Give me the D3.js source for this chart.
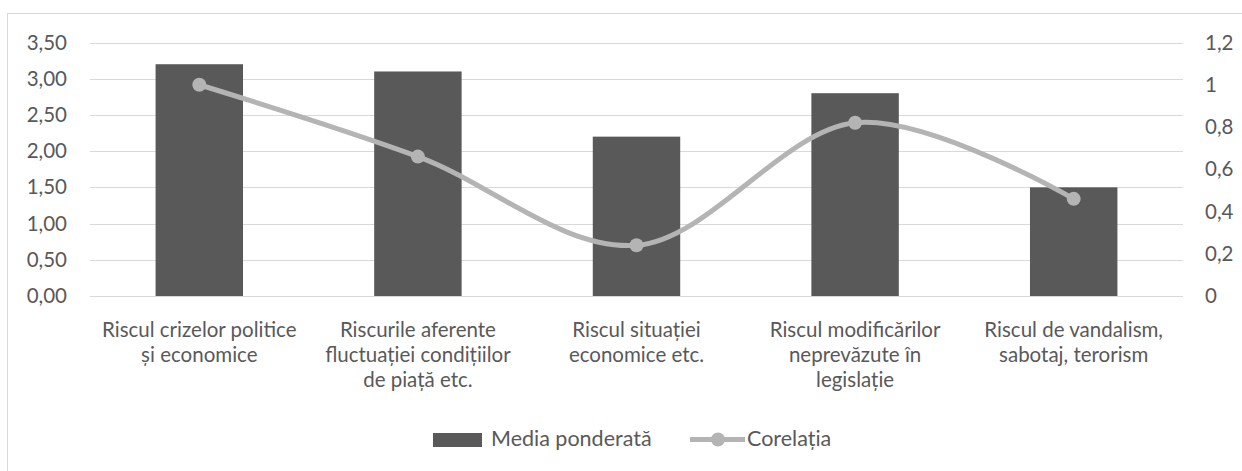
<!DOCTYPE html>
<html>
<head>
<meta charset="utf-8">
<script src="https://cdn.jsdelivr.net/npm/d3@7"></script>
<style>
  html, body { margin: 0; padding: 0; background: #fff; }
  svg { display: block; font-family: Lato, "Open Sans", sans-serif; }
</style>
</head>
<body>
<svg id="chart" width="1242" height="471"></svg>
<script>
// Chart data
const categories = [
  ["Riscul crizelor politice", "și economice"],
  ["Riscurile aferente", "fluctuației condițiilor", "de piață etc."],
  ["Riscul situației", "economice etc."],
  ["Riscul modificărilor", "neprevăzute în", "legislație"],
  ["Riscul de vandalism,", "sabotaj, terorism"]
];
const mediaPonderata = [3.2, 3.1, 2.2, 2.8, 1.5];
const corelatia = [1.0, 0.66, 0.24, 0.82, 0.46];
const leftTicks = [0, 0.5, 1, 1.5, 2, 2.5, 3, 3.5];
const rightTicks = [0, 0.2, 0.4, 0.6, 0.8, 1, 1.2];
const seriesNames = ["Media ponderată", "Corelația"];

const svg = d3.select("#chart");
const barColor = "#595959";
const lineColor = "#b4b4b4";
const textColor = "#595959";
const fontSize = 20.5;

// Chart area border
svg.append("rect")
  .attr("x", 7.5).attr("y", 13.5)
  .attr("width", 1260).attr("height", 480)
  .attr("fill", "#fff").attr("stroke", "#d9d9d9");

const plot = { left: 90, right: 1183, top: 42.5, bottom: 296 };

const x = d3.scaleBand()
  .domain(d3.range(categories.length))
  .range([plot.left, plot.right])
  .paddingInner(0.6).paddingOuter(0.3);
const xCenter = i => x(i) + x.bandwidth() / 2;

const yL = d3.scaleLinear().domain([0, 3.5]).range([plot.bottom, plot.top]);
const yR = d3.scaleLinear().domain([0, 1.2]).range([plot.bottom, plot.top]);

// Gridlines
svg.append("g")
  .selectAll("line").data(leftTicks).join("line")
  .attr("x1", plot.left).attr("x2", plot.right)
  .attr("y1", d => Math.round(yL(d)) + 0.5).attr("y2", d => Math.round(yL(d)) + 0.5)
  .attr("stroke", "#d9d9d9").attr("stroke-width", 1);

// Left axis labels
const fmt2 = d => d3.format(".2f")(d).replace(".", ",");
const leftAxis = d3.axisLeft(yL).tickValues(leftTicks).tickSize(0).tickPadding(0).tickFormat(fmt2);
svg.append("g")
  .attr("transform", `translate(67,0)`)
  .call(leftAxis)
  .call(g => g.select(".domain").remove())
  .call(g => g.selectAll("text").attr("fill", textColor).attr("font-size", fontSize).attr("font-family", "Lato, sans-serif"));

// Right axis labels
const fmtR = d => String(+d.toFixed(1)).replace(".", ",");
const rightAxis = d3.axisRight(yR).tickValues(rightTicks).tickSize(0).tickPadding(0).tickFormat(fmtR);
svg.append("g")
  .attr("transform", `translate(1205,0)`)
  .call(rightAxis)
  .call(g => g.select(".domain").remove())
  .call(g => g.selectAll("text").attr("fill", textColor).attr("font-size", fontSize).attr("font-family", "Lato, sans-serif"));

// Bars
svg.append("g")
  .selectAll("rect").data(mediaPonderata).join("rect")
  .attr("x", (d, i) => x(i))
  .attr("y", d => yL(d))
  .attr("width", x.bandwidth())
  .attr("height", d => yL(0) - yL(d))
  .attr("fill", barColor);

// Baseline
svg.append("line")
  .attr("x1", plot.left).attr("x2", plot.right)
  .attr("y1", Math.round(yL(0)) + 0.5).attr("y2", Math.round(yL(0)) + 0.5)
  .attr("stroke", "#d9d9d9");

// Smoothed correlation line
const line = d3.line()
  .x((d, i) => xCenter(i))
  .y(d => yR(d))
  .curve(d3.curveCardinal.tension(0));
svg.append("path")
  .datum(corelatia)
  .attr("d", line)
  .attr("fill", "none")
  .attr("stroke", lineColor)
  .attr("stroke-width", 5)
  .attr("stroke-linecap", "round");
svg.append("g")
  .selectAll("circle").data(corelatia).join("circle")
  .attr("cx", (d, i) => xCenter(i))
  .attr("cy", d => yR(d))
  .attr("r", 7)
  .attr("fill", lineColor);

// Category labels
const catG = svg.append("g");
categories.forEach((lines, i) => {
  const t = catG.append("text")
    .attr("x", xCenter(i))
    .attr("y", 337)
    .attr("text-anchor", "middle")
    .attr("fill", textColor)
    .attr("font-size", fontSize);
  lines.forEach((ln, j) => {
    t.append("tspan").attr("x", xCenter(i)).attr("y", 337 + j * 25).text(ln);
  });
});

// Legend
const leg = svg.append("g");
leg.append("rect")
  .attr("x", 433).attr("y", 433).attr("width", 49).attr("height", 14)
  .attr("fill", barColor);
leg.append("text")
  .attr("x", 491).attr("y", 446)
  .attr("fill", textColor).attr("font-size", 21.5)
  .text(seriesNames[0]);
leg.append("line")
  .attr("x1", 690).attr("x2", 745).attr("y1", 439.5).attr("y2", 439.5)
  .attr("stroke", lineColor).attr("stroke-width", 5);
leg.append("circle")
  .attr("cx", 718).attr("cy", 439.5).attr("r", 7).attr("fill", lineColor);
leg.append("text")
  .attr("x", 747).attr("y", 446)
  .attr("fill", textColor).attr("font-size", 21.5)
  .text(seriesNames[1]);
</script>
</body>
</html>
